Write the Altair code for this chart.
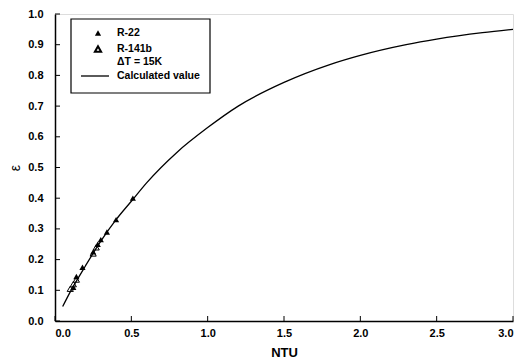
import altair as alt
import pandas as pd

# Calculated curve
curve_ntu = [0.05, 0.1, 0.2, 0.3, 0.4, 0.5, 0.6, 0.8, 1.0, 1.2, 1.5, 1.8, 2.0, 2.3, 2.5, 2.8, 3.0]
curve_eps = [0.047, 0.095, 0.18, 0.26, 0.33, 0.39, 0.45, 0.55, 0.63, 0.70, 0.777, 0.835, 0.865, 0.90, 0.918, 0.939, 0.95]

# R-22 (filled triangles)
r22_ntu = [0.12, 0.14, 0.18, 0.25, 0.28, 0.30, 0.34, 0.40, 0.51]
r22_eps = [0.11, 0.145, 0.175, 0.225, 0.25, 0.265, 0.29, 0.33, 0.40]

# R-141b (open triangles)
r141_ntu = [0.10, 0.12, 0.14, 0.25, 0.27]
r141_eps = [0.105, 0.12, 0.135, 0.22, 0.24]

x_ticks = [0.0, 0.5, 1.0, 1.5, 2.0, 2.5, 3.0]
y_ticks = [0.0, 0.1, 0.2, 0.3, 0.4, 0.5, 0.6, 0.7, 0.8, 0.9, 1.0]

W, H = 458, 307
FONT = "Liberation Sans"

curve_df = pd.DataFrame({"ntu": curve_ntu, "eps": curve_eps})
r22_df = pd.DataFrame({"ntu": r22_ntu, "eps": r22_eps})
r141_df = pd.DataFrame({"ntu": r141_ntu, "eps": r141_eps})

xs = alt.Scale(domain=[0, 3], nice=False, zero=False)
ys = alt.Scale(domain=[0, 1], nice=False, zero=False)

xaxis = alt.Axis(values=x_ticks, format=".1f", title="NTU", ticks=False, grid=False, labelOverlap=False,
                 labelFont=FONT, labelFontWeight="bold", labelFontSize=11, labelColor="black",
                 titleFont=FONT, titleFontWeight="bold", titleFontSize=13, titleColor="black",
                 domainColor="black", domainWidth=1.5, labelPadding=6, titlePadding=8)
yaxis = alt.Axis(values=y_ticks, format=".1f", title="ε", ticks=False, grid=False, labelOverlap=False,
                 labelFont=FONT, labelFontWeight="bold", labelFontSize=11, labelColor="black",
                 titleFont=FONT, titleFontWeight="normal", titleFontSize=14, titleColor="black",
                 domainColor="black", domainWidth=1.5, labelPadding=12, titlePadding=5)


def X(f):
    return alt.X(f, scale=xs, axis=xaxis)


def Y(f):
    return alt.Y(f, scale=ys, axis=yaxis)


line = alt.Chart(curve_df).mark_line(color="black", strokeWidth=1.3, interpolate="monotone").encode(
    x=X("ntu:Q"), y=Y("eps:Q"))

r22 = alt.Chart(r22_df).mark_point(shape="triangle-up", filled=True, color="black", size=38, opacity=1).encode(
    x=X("ntu:Q"), y=Y("eps:Q"))
r141 = alt.Chart(r141_df).mark_point(shape="triangle-up", filled=False, color="black", size=38,
                                     strokeWidth=1, opacity=1).encode(x=X("ntu:Q"), y=Y("eps:Q"))

# inward ticks
xt = alt.Chart(pd.DataFrame({"ntu": x_ticks})).mark_rule(color="black", strokeWidth=1).encode(
    x=X("ntu:Q"), y=alt.value(H), y2=alt.value(H - 5))
yt = alt.Chart(pd.DataFrame({"eps": y_ticks})).mark_rule(color="black", strokeWidth=1).encode(
    y=Y("eps:Q"), x=alt.value(0), x2=alt.value(5))

# legend
box = alt.Chart(pd.DataFrame({"a": [0]})).mark_rect(fill="white", stroke="black", strokeWidth=1.2).encode(
    x=alt.value(16), x2=alt.value(155), y=alt.value(5), y2=alt.value(79))
leg_f = alt.Chart(pd.DataFrame({"a": [0]})).mark_point(shape="triangle-up", filled=True, color="black",
                                                      size=38, opacity=1).encode(x=alt.value(43), y=alt.value(19))
leg_o = alt.Chart(pd.DataFrame({"a": [0]})).mark_point(shape="triangle-up", filled=False, color="black",
                                                      size=38, opacity=1).encode(x=alt.value(43), y=alt.value(35))
leg_l = alt.Chart(pd.DataFrame({"a": [0]})).mark_rule(color="black", strokeWidth=1.3).encode(
    x=alt.value(26), x2=alt.value(54), y=alt.value(62))


def txt(s, y):
    return alt.Chart(pd.DataFrame({"t": [s]})).mark_text(
        align="left", baseline="middle", font=FONT, fontWeight="bold", fontSize=10.5, color="black"
    ).encode(text="t:N", x=alt.value(62), y=alt.value(y))


chart = alt.layer(
    line, r22, r141, xt, yt, box, leg_f, leg_o, leg_l,
    txt("R-22", 19), txt("R-141b", 35), txt("ΔT = 15K", 48), txt("Calculated value", 62),
).properties(width=W, height=H).configure_view(stroke="black", strokeWidth=1.5).configure(
    padding={"left": 0, "top": 0, "right": 0, "bottom": 0}
)

chart.save("out.html", embed_options={"renderer": "svg", "actions": False})
